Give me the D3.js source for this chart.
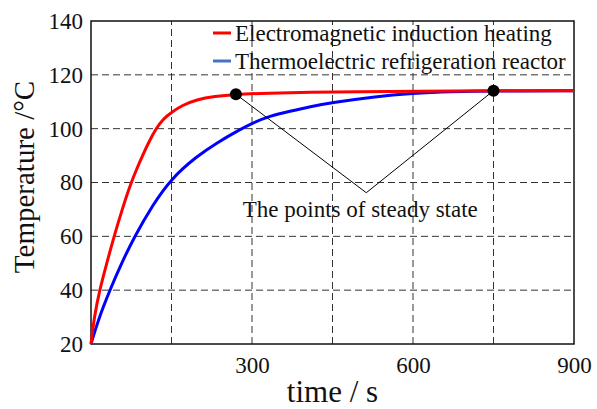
<!DOCTYPE html>
<html>
<head>
<meta charset="utf-8">
<script src="https://cdn.jsdelivr.net/npm/d3@7"></script>
<style>
  body { margin: 0; background: #fff; }
  text { font-family: "Liberation Serif", "Times New Roman", serif; }
</style>
</head>
<body>
<div class="chart"></div>
<script>
// values
const heatingTime = [0, 6, 16, 30, 43, 58, 74, 86, 97, 109, 121, 135, 150, 170, 197, 230, 268, 330, 408, 500, 600, 750, 900];
const heatingTemp = [20, 30, 40, 50.5, 60, 70, 79.6, 85.4, 90.5, 95.5, 100, 103.7, 106.1, 108.7, 110.8, 112, 112.8, 113.2, 113.5, 113.7, 113.9, 114.1, 114.1];

const reactorTime = [0, 13, 35, 58, 81.4, 114, 150, 197, 234, 278, 300, 333, 371, 408, 450, 525, 600, 670, 750, 900];
const reactorTemp = [20, 28.7, 40, 50.5, 60, 71.4, 81.6, 89.7, 94.7, 99.7, 102, 104.7, 106.5, 108.2, 109.7, 111.8, 113.2, 113.8, 114.05, 114.05];

const steadyPoints = [{ t: 270, v: 112.8 }, { t: 750, v: 114.1 }];
const noteVertex = { t: 513, v: 76.2 };

const xTicks = [300, 600, 900];
const xGrid = [150, 300, 450, 600, 750];
const yTicks = [20, 40, 60, 80, 100, 120, 140];

const seriesNames = ["Electromagnetic induction heating", "Thermoelectric refrigeration reactor"];

const w = 597;
const h = 409;
const margin = { left: 91, right: 23, top: 21, bottom: 65 };
const serif = '"Liberation Serif", "Times New Roman", serif';

const svg = d3.select(".chart")
    .append("svg")
    .attr("width", w)
    .attr("height", h);

const xScale = d3.scaleLinear()
    .domain([0, 900])
    .range([margin.left, w - margin.right]);

const yScale = d3.scaleLinear()
    .domain([20, 140])
    .range([h - margin.bottom, margin.top]);

// grid
svg.append("g")
    .selectAll("line")
    .data(xGrid)
    .join("line")
    .attr("x1", d => xScale(d))
    .attr("x2", d => xScale(d))
    .attr("y1", yScale(20))
    .attr("y2", yScale(140))
    .attr("stroke", "#333")
    .attr("stroke-width", 1)
    .attr("stroke-dasharray", "7,4");

svg.append("g")
    .selectAll("line")
    .data(yTicks.slice(1, -1))
    .join("line")
    .attr("x1", xScale(0))
    .attr("x2", xScale(900))
    .attr("y1", d => yScale(d))
    .attr("y2", d => yScale(d))
    .attr("stroke", "#333")
    .attr("stroke-width", 1)
    .attr("stroke-dasharray", "7,4");

// axes
const xAxis = d3.axisBottom(xScale).tickValues(xTicks).tickSize(0).tickPadding(13);
const yAxis = d3.axisLeft(yScale).tickValues(yTicks).tickSize(0).tickPadding(8);

svg.append("g")
    .attr("transform", `translate(0,${yScale(20)})`)
    .attr("font-family", serif)
    .call(xAxis)
    .call(g => g.select(".domain").remove())
    .selectAll("text")
    .attr("font-size", "23px")
    .attr("fill", "#111");

svg.append("g")
    .attr("transform", `translate(${xScale(0)},0)`)
    .attr("font-family", serif)
    .call(yAxis)
    .call(g => g.select(".domain").remove())
    .selectAll("text")
    .attr("font-size", "23px")
    .attr("fill", "#111");

// frame
svg.append("rect")
    .attr("x", xScale(0))
    .attr("y", yScale(140))
    .attr("width", xScale(900) - xScale(0))
    .attr("height", yScale(20) - yScale(140))
    .attr("fill", "none")
    .attr("stroke", "#111")
    .attr("stroke-width", 1.5);

// curves
const line = d3.line()
    .x(d => xScale(d[0]))
    .y(d => yScale(d[1]))
    .curve(d3.curveBasis);

svg.append("path")
    .datum(d3.zip(reactorTime, reactorTemp))
    .attr("fill", "none")
    .attr("stroke", "#0000ff")
    .attr("stroke-width", 3)
    .attr("d", line);

svg.append("path")
    .datum(d3.zip(heatingTime, heatingTemp))
    .attr("fill", "none")
    .attr("stroke", "#ff0000")
    .attr("stroke-width", 3)
    .attr("d", line);

// annotation
steadyPoints.forEach(p => {
    svg.append("line")
        .attr("x1", xScale(p.t))
        .attr("y1", yScale(p.v))
        .attr("x2", xScale(noteVertex.t))
        .attr("y2", yScale(noteVertex.v))
        .attr("stroke", "#000")
        .attr("stroke-width", 1);
});

svg.selectAll(".dot")
    .data(steadyPoints)
    .join("circle")
    .attr("class", "dot")
    .attr("cx", d => xScale(d.t))
    .attr("cy", d => yScale(d.v))
    .attr("r", 6)
    .attr("fill", "#000");

svg.append("text")
    .attr("x", xScale(noteVertex.t) - 6)
    .attr("y", yScale(noteVertex.v) + 24)
    .attr("text-anchor", "middle")
    .attr("font-size", "23px")
    .attr("fill", "#111")
    .text("The points of steady state");

// legend
const legendColors = ["#ff0000", "#4472c4"];
seriesNames.forEach((name, i) => {
    const ly = 33 + i * 28;
    svg.append("line")
        .attr("x1", 213)
        .attr("x2", 231)
        .attr("y1", ly)
        .attr("y2", ly)
        .attr("stroke", legendColors[i])
        .attr("stroke-width", 3);
    svg.append("text")
        .attr("x", 235)
        .attr("y", ly + 8)
        .attr("font-size", "23px")
        .attr("fill", "#111")
        .text(name);
});

// axis titles
svg.append("text")
    .attr("x", (xScale(0) + xScale(900)) / 2)
    .attr("y", 402)
    .attr("text-anchor", "middle")
    .attr("font-size", "31px")
    .attr("fill", "#111")
    .text("time / s");

svg.append("text")
    .attr("transform", `translate(34,177) rotate(-90)`)
    .attr("text-anchor", "middle")
    .attr("font-size", "29px")
    .attr("fill", "#111")
    .text("Temperature /°C");
</script>
</body>
</html>
